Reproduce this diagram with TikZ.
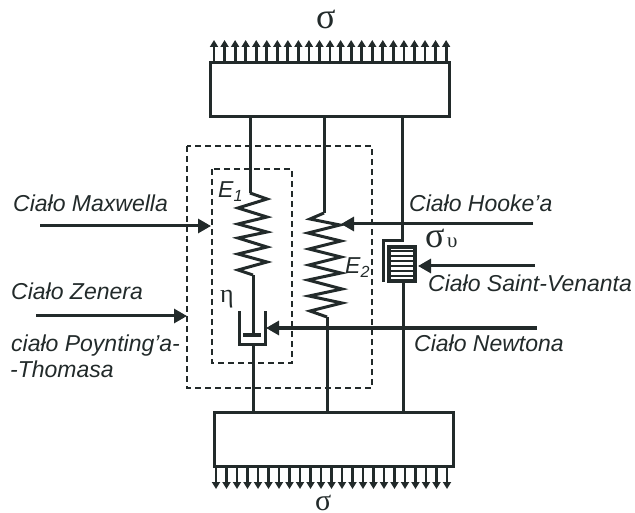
\documentclass[tikz,border=0pt]{standalone}
\usepackage{fontspec}
\setmainfont{Liberation Sans}
\newfontfamily\serifgreek{Liberation Serif}
\usepackage{tikz}
\usetikzlibrary{arrows.meta}
\definecolor{ink}{HTML}{222A2A}
\tikzset{
  member/.style={draw=ink, line width=3pt},
  frame/.style={draw=ink, line width=2.6pt, dash pattern=on 6pt off 4pt},
  load/.style={draw=ink, line width=2.8pt, -{Triangle[length=7pt,width=8pt]}},
  pointer/.style={draw=ink, line width=3pt, -{Triangle[length=13pt,width=14pt]}},
  caption/.style={anchor=base west, inner sep=0pt, text=ink, font=\fontsize{23}{26}\selectfont\itshape},
  greek/.style={anchor=base west, inner sep=0pt, text=ink, font=\fontsize{36}{36}\selectfont\serifgreek}
}

\begin{document}
\begin{tikzpicture}
  [x=1pt, y=-1pt]
  \useasboundingbox (0, 0) rectangle (635, 513);

  \node[member, minimum width=239pt, minimum height=54pt, inner sep=0pt] (top) at (329.5, 90) {};
  \node[member, minimum width=239pt, minimum height=54pt, inner sep=0pt] (bottom) at (333.5, 439) {};

  % loads on both plates
  \foreach \i in {0,...,22}
  {
    \draw[load] (214 + \i*10.55, 62) -- (214 + \i*10.55, 40);
    \draw[load] (216 + \i*10.5, 466) -- (216 + \i*10.5, 489);
  }

  \coordinate (e1top) at (250, 117);
  \coordinate (e1a) at (250, 193);
  \coordinate (e1b) at (253, 275);
  \coordinate (pistonrod) at (253, 335);
  \coordinate (potbase) at (253, 344);
  \coordinate (e1end) at (253, 412);
  \coordinate (e2top) at (324, 117);
  \coordinate (e2a) at (324, 213);
  \coordinate (e2b) at (327, 317);
  \coordinate (e2end) at (327, 412);
  \coordinate (svtop) at (402, 117);
  \coordinate (svbend) at (402, 241);
  \coordinate (svbase) at (403, 282);
  \coordinate (svend) at (403, 412);

  \foreach \from/\to in {e1top/e1a,e1b/pistonrod,potbase/e1end,e2top/e2a,e2b/e2end,svbase/svend}
  \draw[member] (\from) -- (\to);

  % springs
  \draw[member, line join=miter] (e1a) -- (267, 199) -- (238, 208) -- (267, 217) -- (238, 224)
    -- (267, 232) -- (238, 238) -- (267, 247) -- (238, 254) -- (267, 262) -- (238, 270) -- (e1b);
  \draw[member, line join=miter] (e2a) -- (310, 219) -- (340, 225) -- (308, 233) -- (341, 241)
    -- (309, 249) -- (341, 257) -- (309, 265) -- (341, 273) -- (308, 280) -- (342, 289) -- (309, 296)
    -- (342, 303) -- (310, 311) -- (e2b);

  % dashpot
  \draw[member] (239, 311) -- (239, 344) -- (265, 344) -- (265, 311);
  \draw[member, line width=3.6pt] (243, 335) -- (261, 335);

  % slider
  \draw[member] (svtop) -- (svbend) -- (383, 241) -- (383, 282);
  \node[draw=ink, line width=3.4pt, minimum width=26pt, minimum height=34pt, inner sep=0pt] (slider) at (402, 264) {};
  \foreach \y in {251,256,...,276}
  \draw[draw=ink, line width=2.2pt] (389, \y) -- (415, \y);

  % frames
  \draw[frame] (187, 146) rectangle (372, 388);
  \draw[frame] (212, 169) rectangle (292, 363);

  \coordinate (maxwellin) at (40, 226);
  \coordinate (maxwellat) at (211, 226);
  \coordinate (zenerin) at (36, 316);
  \coordinate (zenerat) at (187, 316);
  \coordinate (hookein) at (533, 224);
  \coordinate (hookeat) at (341, 224);
  \coordinate (venantin) at (535, 266);
  \coordinate (venantat) at (418, 266);
  \coordinate (newtonin) at (537, 328);
  \coordinate (newtonat) at (266, 328);

  \foreach \from/\to in {maxwellin/maxwellat,zenerin/zenerat,hookein/hookeat,venantin/venantat,newtonin/newtonat}
  \draw[pointer] (\from) -- (\to);

  \node[caption] (maxwell) at (13, 212) {Ciało Maxwella};
  \node[caption] (zener) at (11, 300) {Ciało Zenera};
  \node[caption] (poynting) at (11, 352) {ciało Poynting’a-};
  \node[caption] (thomasa) at (10, 377) {-Thomasa};
  \node[caption] (hooke) at (409, 212) {Ciało Hooke’a};
  \node[caption] (venant) at (428, 292) {Ciało Saint-Venanta};
  \node[caption] (newton) at (414, 352) {Ciało Newtona};
  \node[caption] (e1) at (218, 198) {E\textsubscript{1}};
  \node[caption] (e2) at (345, 274) {E\textsubscript{2}};

  \node[greek] (sigmatop) at (316, 29) {σ};
  \node[greek, font=\fontsize{30}{30}\selectfont\serifgreek] (sigmabottom) at (315, 510) {σ};
  \node[greek] (sigmav) at (425, 248) {σ};
  \node[greek, font=\fontsize{21}{21}\selectfont\serifgreek] (upsilon) at (447, 248) {υ};
  \node[greek, font=\fontsize{26}{26}\selectfont\serifgreek] (eta) at (220, 303) {η};
\end{tikzpicture}
\end{document}
